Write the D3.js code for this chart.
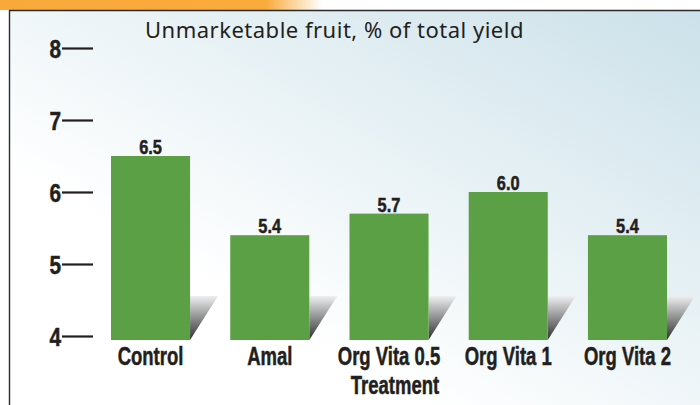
<!DOCTYPE html>
<html>
<head>
<meta charset="utf-8">
<script src="https://cdn.jsdelivr.net/npm/d3@7"></script>
<style>
  html, body { margin: 0; padding: 0; background: #fff; }
  svg { display: block; }
  .cond { font-family: "Liberation Sans", Arial, sans-serif; font-weight: bold; fill: #231f20; stroke: #231f20; stroke-width: 0.5; }
  .title { font-family: "Noto Sans", "Open Sans", sans-serif; fill: #231f20; }
</style>
</head>
<body>
<svg id="chart" width="700" height="405"></svg>
<script>
// Unmarketable fruit by treatment
const categories = ["Control", "Amal", "Org Vita 0.5", "Org Vita 1", "Org Vita 2"];
const values = [6.5, 5.4, 5.7, 6.0, 5.4];
const valueLabels = ["6.5", "5.4", "5.7", "6.0", "5.4"];
const yTicks = [4, 5, 6, 7, 8];

const W = 700, H = 405;
const base = 340; // bar baseline
const svg = d3.select("#chart");
const defs = svg.append("defs");

// no condensed font installed: squeeze Liberation Sans Bold horizontally
const squeeze = (sel, tx, ty, sx) =>
  sel.attr("x", 0).attr("y", 0).attr("transform", (d, i) => `translate(${tx(d, i)},${ty(d, i)}) scale(${sx},1)`);

// ---------- background ----------
const bg = defs.append("linearGradient").attr("id", "bg")
  .attr("x1", "0%").attr("y1", "100%").attr("x2", "100%").attr("y2", "0%");
bg.append("stop").attr("offset", "0%").attr("stop-color", "#ffffff");
bg.append("stop").attr("offset", "30%").attr("stop-color", "#ffffff");
bg.append("stop").attr("offset", "100%").attr("stop-color", "#cbe1e9");

const orange = defs.append("linearGradient").attr("id", "orange")
  .attr("x1", "0").attr("y1", "0").attr("x2", "1").attr("y2", "0");
orange.append("stop").attr("offset", "0%").attr("stop-color", "#f9a93a");
orange.append("stop").attr("offset", "38%").attr("stop-color", "#f9ab3c");
orange.append("stop").attr("offset", "46%").attr("stop-color", "#ffffff");

const shade = defs.append("linearGradient").attr("id", "shade")
  .attr("x1", "0").attr("y1", "0").attr("x2", "0").attr("y2", "1");
shade.append("stop").attr("offset", "0%").attr("stop-color", "#eeeff0");
shade.append("stop").attr("offset", "100%").attr("stop-color", "#2e2e2e");

svg.append("rect").attr("width", W).attr("height", 10).attr("fill", "url(#orange)");
svg.append("rect").attr("x", 9).attr("y", 10).attr("width", W - 9).attr("height", H - 10).attr("fill", "url(#bg)");
svg.append("line").attr("x1", 9).attr("x2", W).attr("y1", 10.5).attr("y2", 10.5)
  .attr("stroke", "#2b2b2b").attr("stroke-width", 1.6);
svg.append("line").attr("x1", 9.5).attr("x2", 9.5).attr("y1", 10).attr("y2", H)
  .attr("stroke", "#2b2b2b").attr("stroke-width", 1.4);

// ---------- scales ----------
const x = d3.scaleBand().domain(categories).range([111, 667]).paddingInner(0.337).paddingOuter(0);
const y = d3.scaleLinear().domain([4, 8]).range([336, 48]);
const cx = (d) => x(d) + x.bandwidth() / 2;

// ---------- y axis (number + long dash) ----------
const yAxis = svg.append("g").attr("transform", "translate(93,0)")
  .call(d3.axisLeft(y).tickValues(yTicks).tickFormat(d3.format("d")).tickSize(31).tickPadding(1));
yAxis.select(".domain").remove();
yAxis.selectAll(".tick line").attr("stroke", "#231f20").attr("stroke-width", 2.2);
yAxis.selectAll(".tick text").attr("class", "cond").attr("font-size", 26).attr("dy", null)
  .call(squeeze, () => -32, () => 9, 0.8);

// ---------- bars ----------
const bars = svg.append("g").selectAll("g").data(values).join("g");

bars.append("path")
  .attr("fill", "url(#shade)")
  .attr("d", (d, i) => {
    const r = x(categories[i]) + x.bandwidth();
    return `M${r},${base - 44}L${r + 28},${base - 44}L${r},${base}Z`;
  });

bars.append("rect")
  .attr("x", (d, i) => x(categories[i]))
  .attr("width", x.bandwidth())
  .attr("y", (d) => y(d))
  .attr("height", (d) => base - y(d))
  .attr("fill", "#5ba045");

bars.append("text")
  .attr("class", "cond")
  .attr("font-size", 20)
  .attr("text-anchor", "middle")
  .text((d, i) => valueLabels[i])
  .call(squeeze, (d, i) => cx(categories[i]), (d) => y(d) - 2, 0.82);

// ---------- category labels ----------
svg.append("g").selectAll("text").data(categories).join("text")
  .attr("class", "cond")
  .attr("font-size", 25)
  .attr("text-anchor", "middle")
  .text((d) => d)
  .call(squeeze, (d) => cx(d), () => 365, 0.74);

svg.append("text").attr("class", "cond").attr("font-size", 25)
  .attr("text-anchor", "middle").text("Treatment")
  .call(squeeze, () => 395, () => 394, 0.74);

// ---------- title ----------
svg.append("text").attr("class", "title").attr("font-size", 22).attr("letter-spacing", 0.5)
  .attr("x", 145).attr("y", 38).text("Unmarketable fruit, % of total yield");
</script>
</body>
</html>
